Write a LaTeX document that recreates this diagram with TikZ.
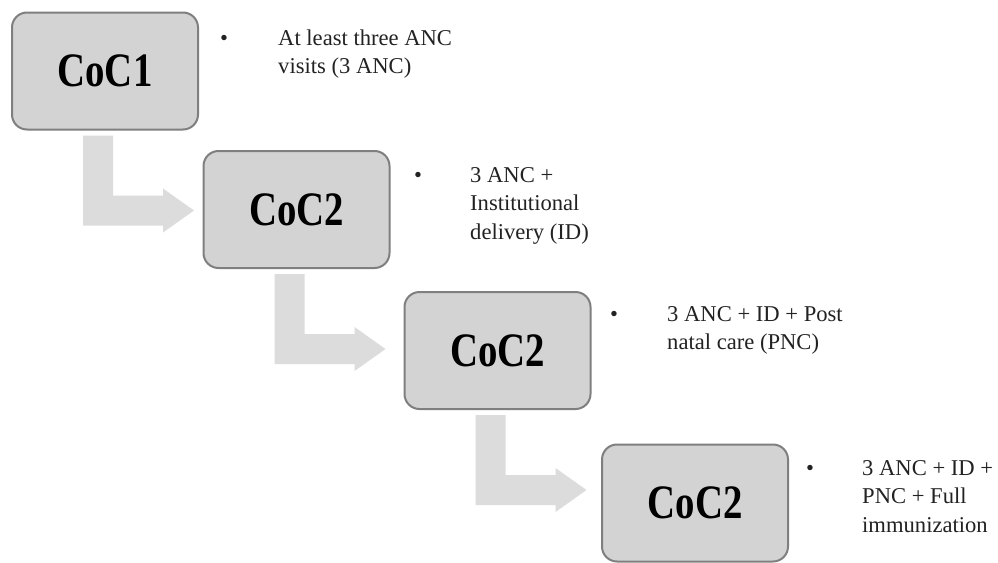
\documentclass[tikz,border=0pt]{standalone}
\usepackage{fontspec}
\usepackage{graphicx}
\setmainfont{Liberation Serif}
\newfontfamily\tnr{Liberation Serif}
\usetikzlibrary{calc}
\definecolor{boxfill}{HTML}{D3D3D3}
\definecolor{boxline}{HTML}{7F7F7F}
\definecolor{arrowfill}{HTML}{DCDCDC}
\definecolor{txt}{HTML}{222222}
\newcommand{\tallcoc}[1]{\scalebox{0.97}[1.2]{#1}}
\begin{document}
\begin{tikzpicture}[x=1pt,y=-1pt,
  cocbox/.style={draw=boxline, fill=boxfill, line width=2pt, rounded corners=15pt,
    minimum width=186pt, minimum height=117pt, inner sep=0pt, outer sep=0pt,
    font=\tnr\fontsize{40}{48}\selectfont\bfseries},
  bullettext/.style={anchor=base west, inner sep=0pt, text=txt, font=\tnr\fontsize{22.6}{28.5}\selectfont},
  bulletmark/.style={anchor=base, inner sep=0pt, text=txt, font=\tnr\fontsize{22.6}{28.5}\selectfont},
  elbow/.style={fill=arrowfill, draw=none}]
\useasboundingbox (0,0) rectangle (998,562);
\fill[white] (0,0) rectangle (998,562);

\node[cocbox] (b1) at (105,71) {\tallcoc{CoC1}};
\node[cocbox] (b2) at (296.5,209.5) {\tallcoc{CoC2}};
\node[cocbox] (b3) at (497.5,350.5) {\tallcoc{CoC2}};
\node[cocbox] (b4) at (695,503) {\tallcoc{CoC2}};

\foreach \b in {b1,b2,b3}{
  \fill[elbow] ($(\b.north west)+(71,123)$) -- ++(30,0) -- ++(0,60) -- ++(50,0)
    -- ++(0,-7) -- ++(31,22) -- ++(-31,22) -- ++(0,-7) -- ++(-80,0) -- cycle;
}

\node[bulletmark] (m1) at (224,45) {•};
\node[bullettext] (t1) at (278,45) {\tnr\begin{tabular}[t]{@{}l@{}}At least three ANC\\visits (3 ANC)\end{tabular}};
\node[bulletmark] (m2) at (418,182) {•};
\node[bullettext] (t2) at (470,182) {\tnr\begin{tabular}[t]{@{}l@{}}3 ANC +\\Institutional\\delivery (ID)\end{tabular}};
\node[bulletmark] (m3) at (614,321) {•};
\node[bullettext] (t3) at (667,321) {\tnr\begin{tabular}[t]{@{}l@{}}3 ANC + ID + Post\\natal care (PNC)\end{tabular}};
\node[bulletmark] (m4) at (810,475) {•};
\node[bullettext] (t4) at (862,475) {\tnr\begin{tabular}[t]{@{}l@{}}3 ANC + ID +\\PNC + Full\\immunization\end{tabular}};
\end{tikzpicture}
\end{document}
